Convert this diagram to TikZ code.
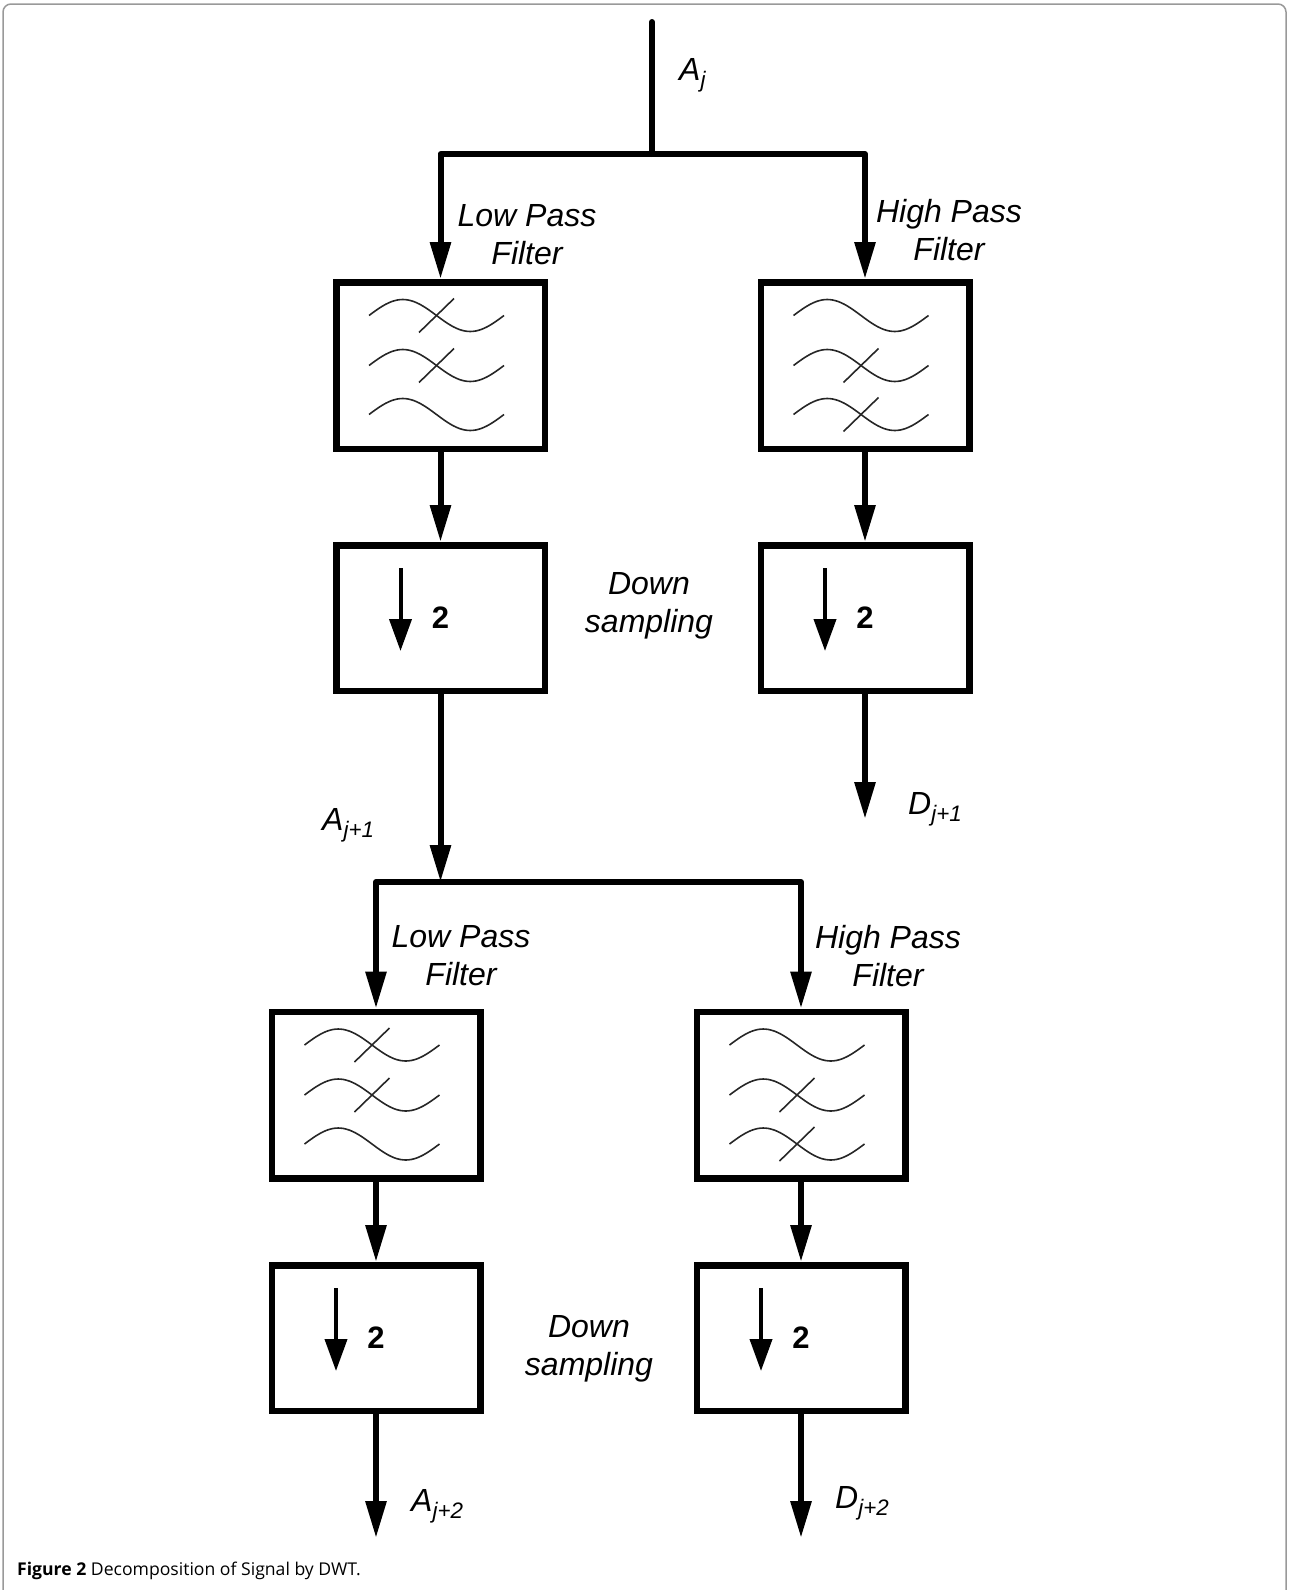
\documentclass[tikz,border=0pt]{standalone}
\usepackage{fontspec}
\setmainfont{Liberation Sans}
\newfontfamily\capfont{Open Sans}
\usepackage{tikz}
\usetikzlibrary{arrows.meta}

\begin{document}
\begin{tikzpicture}[x=1pt,y=-1pt,
  conn/.style={line width=6pt,line join=round,line cap=round},
  arr/.style={conn,line cap=butt,-{Triangle[width=20pt,length=37pt]}},
  filtbox/.style={draw,line width=6.5pt,minimum width=208.5pt,minimum height=166.5pt,inner sep=0},
  dsbox/.style={draw,line width=6.5pt,minimum width=208.5pt,minimum height=145.5pt,inner sep=0,
    font=\fontsize{31}{31}\selectfont\bfseries},
  wave/.style={line width=1.6pt,black!85},
  smallarr/.style={line width=4pt,-{Triangle[width=22pt,length=32pt]}},
  lbl/.style={font=\fontsize{32}{38}\selectfont\itshape,align=center,inner sep=0}]
  \useasboundingbox (0,0) rectangle (1289,1590);
  \draw[gray!80,line width=1.5pt,rounded corners=8pt] (3,1590) -- (3,4) -- (1286,4) -- (1286,1590);

  % first stage
  \node[filtbox] (lpfA) at (440.5,365.5) {};
  \node[filtbox] (hpfA) at (865,365.5) {};
  \node[dsbox] (dsA) at (440.5,618) {2};
  \node[dsbox] (dsB) at (865,618) {2};
  \coordinate (in) at (652,22);
  \coordinate (splitA) at (652,154);
  \coordinate (dB) at (865,819);
  \coordinate (splitB) at (440.5,882);
  \draw[conn] (in) -- (splitA);
  \draw[arr] (splitA) -| (lpfA);
  \draw[arr] (splitA) -| (hpfA);
  \draw[arr] (lpfA) -- (dsA);
  \draw[arr] (hpfA) -- (dsB);
  \draw[arr] (dsB) -- (dB);
  \draw[arr] (dsA) -- (splitB);

  % second stage
  \node[filtbox] (lpfC) at (376,1095) {};
  \node[filtbox] (hpfC) at (801,1095) {};
  \node[dsbox] (dsC) at (376,1338) {2};
  \node[dsbox] (dsD) at (801,1338) {2};
  \coordinate (aC) at (376,1538);
  \coordinate (dD) at (801,1538);
  \draw[arr] (splitB) -| (lpfC);
  \draw[arr] (splitB) -| (hpfC);
  \draw[arr] (lpfC) -- (dsC);
  \draw[arr] (hpfC) -- (dsD);
  \draw[arr] (dsC) -- (aC);
  \draw[arr] (dsD) -- (dD);

  % filter symbols
  \foreach \b/\crs in {lpfA/{-50,0},hpfA/{0,49},lpfC/{-50,0},hpfC/{0,49}} {
    \begin{scope}[shift={(\b.center)}]
    \foreach \dy in {-50,0,49}
      \draw[wave] plot[smooth,domain=0:135,samples=25] ({\x-71.5},{\dy-16*sin(\x*8/3)});
    \foreach \dy in \crs
      \draw[wave] (-21.5,\dy+17) -- (13.5,\dy-17);
    \end{scope}
  }
  \foreach \b in {dsA,dsB,dsC,dsD}
    \draw[smallarr] ([shift={(-40,-50)}]\b.center) -- ([shift={(-40,33)}]\b.center);

  % labels
  \node[lbl,anchor=base west] (lAj) at (679,80) {A\textsubscript{j}};
  \node[lbl] (lLpfA) at (527,235) {Low Pass\\Filter};
  \node[lbl] (lHpfA) at (949,230) {High Pass\\Filter};
  \node[lbl] (lDsA) at (649,606) {Down\\sampling};
  \node[lbl,anchor=base west] (lAj1) at (322,830) {A\textsubscript{j+1}};
  \node[lbl,anchor=base west] (lDj1) at (908,814) {D\textsubscript{j+1}};
  \node[lbl] (lLpfC) at (461,956) {Low Pass\\Filter};
  \node[lbl] (lHpfC) at (888,956) {High Pass\\Filter};
  \node[lbl] (lDsC) at (589,1349) {Down\\sampling};
  \node[lbl,anchor=base west] (lAj2) at (411,1511) {A\textsubscript{j+2}};
  \node[lbl,anchor=base west] (lDj2) at (835,1508) {D\textsubscript{j+2}};

  \node[anchor=base west,inner sep=0,font=\capfont\fontsize{17.6}{20}\selectfont] (cap) at (17,1575)
    {\textbf{Figure 2} Decomposition of Signal by DWT.};
\end{tikzpicture}
\end{document}
